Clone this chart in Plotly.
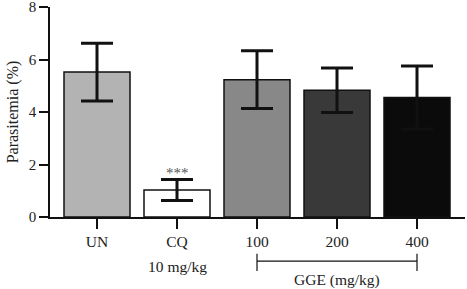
import plotly.graph_objects as go

categories = ["UN", "CQ", "100", "200", "400"]
values = [5.52, 1.03, 5.23, 4.83, 4.55]
errors = [1.1, 0.4, 1.1, 0.85, 1.2]
colors = ["#b3b3b3", "#ffffff", "#888888", "#393939", "#0b0b0b"]

FONT = "'Liberation Serif', 'Times New Roman', 'DejaVu Serif', serif"

fig = go.Figure()
fig.add_trace(go.Bar(
    x=list(range(len(categories))), y=values,
    width=0.825,
    marker=dict(color=colors, line=dict(color="#111", width=1.5)),
    error_y=dict(type="data", array=errors, visible=True, color="#111", thickness=3, width=16),
    showlegend=False, hoverinfo="skip",
))

fig.update_layout(
    width=467, height=289,
    margin=dict(l=50, r=2, t=7, b=72),
    plot_bgcolor="white", paper_bgcolor="white",
    font=dict(family=FONT, size=15, color="#222"),
    xaxis=dict(
        range=[-0.5875, 4.6], tickmode="array", tickvals=list(range(len(categories))),
        ticktext=categories, showgrid=False, zeroline=False, automargin=False,
        showline=True, linecolor="#111", linewidth=1.5,
        ticks="outside", ticklen=10, tickwidth=1.5, tickcolor="#111",
        tickfont=dict(family=FONT, size=15.5),
    ),
    yaxis=dict(
        range=[0, 8], tickvals=[0, 2, 4, 6, 8], showgrid=False, zeroline=False, automargin=False,
        showline=True, linecolor="#111", linewidth=1.5,
        ticks="outside", ticklen=9, tickwidth=1.5, tickcolor="#111",
        ticklabeloverflow="allow", tickfont=dict(family=FONT, size=15),
        title=dict(text="Parasitemia (%)", standoff=6, font=dict(family=FONT, size=16)),
    ),
    annotations=[
        dict(x=1, y=values[1] + errors[1], xref="x", yref="y", text="***",
             showarrow=False, yanchor="bottom", yshift=-4, font=dict(family=FONT, size=15, color="#555")),
        dict(x=1, y=-0.238, xref="x", yref="paper", text="10 mg/kg",
             showarrow=False, yanchor="middle", font=dict(family=FONT, size=15.5)),
        dict(x=3, y=-0.30, xref="x", yref="paper", text="GGE (mg/kg)",
             showarrow=False, yanchor="middle", font=dict(family=FONT, size=15.5)),
    ],
    shapes=[
        dict(type="line", xref="x", yref="paper", x0=2, x1=4, y0=-0.21, y1=-0.21,
             line=dict(color="#111", width=1.2)),
        dict(type="line", xref="x", yref="paper", x0=2, x1=2, y0=-0.175, y1=-0.257,
             line=dict(color="#111", width=1.2)),
        dict(type="line", xref="x", yref="paper", x0=4, x1=4, y0=-0.175, y1=-0.257,
             line=dict(color="#111", width=1.2)),
    ],
)

fig.write_html("out.html", config={"displayModeBar": False},
               post_script="document.body.style.margin='0';")
